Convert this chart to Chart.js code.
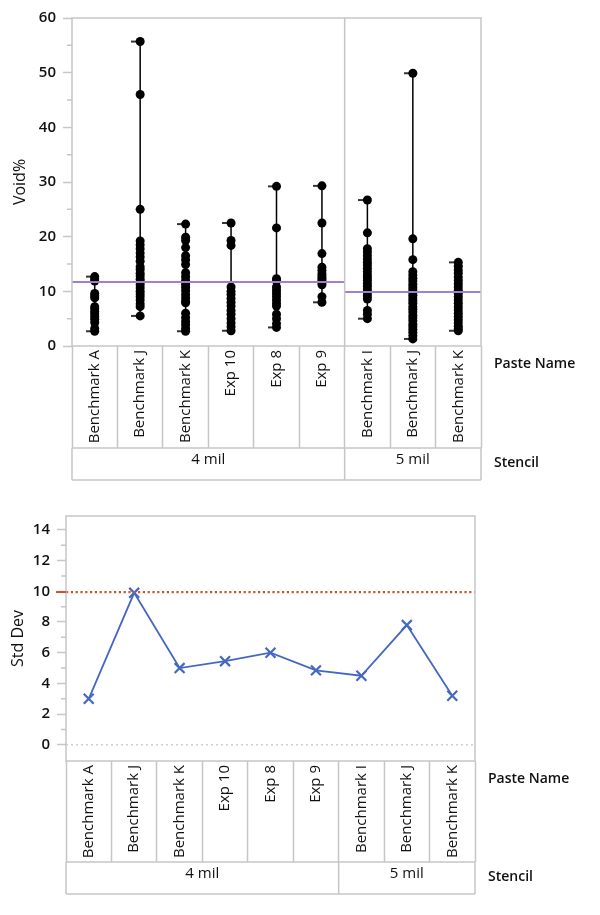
<!DOCTYPE html>
<html>
<head>
<meta charset="utf-8">
<script src="https://cdn.jsdelivr.net/npm/chart.js@4.4.1/dist/chart.umd.min.js"></script>
<style>
  html, body { margin: 0; padding: 0; background: #fff; }
  #page { position: relative; width: 600px; height: 915px; }
  .box { position: absolute; left: 0; width: 600px; }
</style>
</head>
<body>
<div id="page">
  <div class="box" style="top:0;height:500px"><canvas id="voidChart"></canvas></div>
  <div class="box" style="top:500px;height:415px"><canvas id="stdChart"></canvas></div>
</div>
<script>
// categories
const pasteNames = ['Benchmark A', 'Benchmark J', 'Benchmark K', 'Exp 10', 'Exp 8', 'Exp 9', 'Benchmark I', 'Benchmark J', 'Benchmark K'];
const stencils = ['4 mil', '5 mil'];
const stencilSizes = [6, 3];

// Void% readings per paste
const voidBenchA4 = [12.7, 12.3, 11.9, 9.6, 9.2, 8.8, 7.2, 6.8, 6.3, 5.9, 5.4, 4.9, 4.3, 3.2, 2.7];
const voidBenchJ4 = [55.7, 46.0, 25.0, 19.2, 18.5, 17.8, 17.0, 16.3, 15.5, 14.5, 14.0, 13.3, 12.8, 12.2, 11.7, 11.2, 10.6, 10.0, 9.5, 9.0, 8.4, 7.7, 7.2, 5.5];
const voidBenchK4 = [22.3, 19.9, 19.3, 18.0, 16.5, 15.8, 14.9, 13.4, 12.7, 12.0, 11.3, 10.7, 10.1, 9.4, 8.8, 8.2, 7.9, 6.0, 5.2, 4.5, 3.9, 3.2, 2.7];
const voidExp10 = [22.5, 19.3, 18.4, 10.8, 10.0, 9.4, 8.7, 8.0, 7.3, 6.5, 5.8, 5.0, 4.2, 3.5, 2.8];
const voidExp8 = [29.2, 21.6, 12.3, 11.9, 10.8, 10.2, 9.6, 9.0, 8.4, 7.8, 7.3, 5.8, 5.0, 4.1, 3.4];
const voidExp9 = [29.3, 22.5, 16.9, 14.4, 13.8, 13.2, 12.8, 12.4, 12.0, 11.6, 11.2, 9.0, 8.0];
const voidBenchI5 = [26.7, 20.7, 17.8, 17.2, 16.5, 15.9, 15.3, 14.8, 14.2, 13.6, 13.0, 12.5, 12.0, 11.4, 10.9, 10.3, 9.8, 9.2, 8.6, 6.5, 5.8, 5.0];
const voidBenchJ5 = [49.9, 19.6, 15.8, 13.6, 13.0, 12.4, 11.9, 11.3, 10.8, 10.3, 9.8, 9.3, 8.8, 8.3, 7.8, 7.2, 6.7, 6.2, 5.6, 5.1, 4.6, 4.0, 3.5, 3.0, 2.5, 1.9, 1.3];
const voidBenchK5 = [15.3, 14.6, 13.9, 13.3, 12.6, 12.0, 11.4, 10.8, 10.2, 9.6, 9.0, 8.4, 7.8, 7.2, 6.6, 6.0, 5.4, 4.8, 4.2, 3.6, 3.1, 2.8];
const voidValues = [voidBenchA4, voidBenchJ4, voidBenchK4, voidExp10, voidExp8, voidExp9, voidBenchI5, voidBenchJ5, voidBenchK5];
const groupMeans = [11.7, 9.9];

// Std Dev per paste
const stdDev = [3.0, 9.9, 5.0, 5.45, 6.0, 4.85, 4.5, 7.8, 3.2];
const stdLimit = 9.95;

// tick labels
const voidTicks = [0, 10, 20, 30, 40, 50, 60];
const stdTicks = [0, 2, 4, 6, 8, 10, 12, 14];

Chart.defaults.font.family = "'Open Sans', sans-serif";
Chart.defaults.color = '#111';
Chart.defaults.animation = false;

const lineGray = '#c6c6c6';

// frame, label rows, minor ticks
const labelRows = {
  id: 'labelRows',
  afterDraw(chart, args, opts) {
    const { ctx, chartArea: a } = chart;
    const xs = chart.scales.xv;
    const ys = chart.scales.y;
    ctx.save();
    ctx.strokeStyle = lineGray;
    ctx.lineWidth = 1.5;
    ctx.strokeRect(a.left, a.top, a.right - a.left, a.bottom - a.top);
    const row1 = a.bottom + opts.nameRow;
    const row2 = row1 + opts.stencilRow;
    ctx.beginPath();
    ctx.moveTo(a.left, row1); ctx.lineTo(a.right, row1);
    ctx.moveTo(a.left, row2); ctx.lineTo(a.right, row2);
    ctx.font = '15px "Open Sans"';
    ctx.fillStyle = '#111';
    ctx.textAlign = 'center';
    ctx.textBaseline = 'middle';
    let start = 0;
    stencilSizes.forEach((n, g) => {
      const x0 = xs.getPixelForValue(start - 0.5);
      const x1 = xs.getPixelForValue(start + n - 0.5);
      ctx.moveTo(x0, row1); ctx.lineTo(x0, row2);
      ctx.moveTo(x1, row1); ctx.lineTo(x1, row2);
      if (opts.divider && g > 0) {
        ctx.moveTo(x0, a.top); ctx.lineTo(x0, a.bottom);
      }
      ctx.fillText(stencils[g], (x0 + x1) / 2, row1 + 12);
      start += n;
    });
    // minor ticks halfway between the labelled ones
    const t = opts.ticks;
    for (let i = 0; i < t.length - 1; i++) {
      const py = ys.getPixelForValue((t[i] + t[i + 1]) / 2);
      ctx.moveTo(a.left - 5, py); ctx.lineTo(a.left, py);
    }
    ctx.stroke();
    if (opts.limit != null) {
      const py = ys.getPixelForValue(opts.limit);
      ctx.strokeStyle = '#c8552e';
      ctx.lineWidth = 2;
      ctx.beginPath(); ctx.moveTo(a.left - 10, py); ctx.lineTo(a.left, py); ctx.stroke();
    }
    ctx.font = '600 14px "Open Sans"';
    ctx.textAlign = 'left';
    ctx.fillText('Paste Name', a.right + 13, a.bottom + 18);
    ctx.fillText('Stencil', a.right + 13, row1 + 15);
    ctx.restore();
  }
};

function catAxis(height, tickLen) {
  return {
    type: 'category',
    labels: pasteNames,
    offset: true,
    grid: { offset: true, drawOnChartArea: false, tickLength: tickLen, tickColor: lineGray, tickWidth: 1.5 },
    border: { display: false },
    ticks: { minRotation: 90, maxRotation: 90, autoSkip: false, padding: 4 - tickLen, font: { size: 15 } },
    afterFit: s => { s.height = height; }
  };
}

function valueAxis(min, max, ticks, title, width, titlePad) {
  return {
    min: min, max: max,
    afterBuildTicks: s => { s.ticks = ticks.map(v => ({ value: v })); },
    grid: { drawOnChartArea: false, tickLength: 9, tickColor: lineGray, tickWidth: 1.5 },
    border: { display: false },
    ticks: { padding: 7, font: { size: 15, weight: '600' } },
    title: { display: true, text: title, font: { size: 16 }, padding: { top: titlePad, bottom: 0 } },
    afterFit: s => { s.width = width; }
  };
}

function capImage() {
  const c = document.createElement('canvas');
  c.width = 18; c.height = 4;
  const g = c.getContext('2d');
  g.strokeStyle = '#000'; g.lineWidth = 1.6;
  g.beginPath(); g.moveTo(0, 2); g.lineTo(9, 2); g.stroke();
  return c;
}

// top chart data built from the arrays
const dots = [];
const ranges = [];
const caps = [];
voidValues.forEach((vals, i) => {
  vals.forEach(v => dots.push({ x: i, y: v }));
  const lo = Math.min(...vals), hi = Math.max(...vals);
  ranges.push({ x: i, y: lo }, { x: i, y: hi }, { x: i, y: null });
  caps.push({ x: i, y: lo }, { x: i, y: hi });
});
const meanSets = [];
let gStart = 0;
stencilSizes.forEach((n, g) => {
  meanSets.push({
    type: 'line', xAxisID: 'xv',
    data: [{ x: gStart - 0.5, y: groupMeans[g] }, { x: gStart + n - 0.5, y: groupMeans[g] }],
    borderColor: '#a07fd0', borderWidth: 2, pointRadius: 0
  });
  gStart += n;
});

new Chart(document.getElementById('voidChart'), {
  type: 'line',
  data: {
    datasets: [
      ...meanSets,
      { xAxisID: 'xv', data: ranges, borderColor: '#000', borderWidth: 1.5, pointRadius: 0, spanGaps: false },
      { xAxisID: 'xv', data: caps, showLine: false, pointStyle: capImage(), pointRadius: 5 },
      { xAxisID: 'xv', data: dots, showLine: false, pointRadius: 4.5, pointBackgroundColor: '#000', pointBorderWidth: 0 }
    ]
  },
  options: {
    responsive: true, maintainAspectRatio: false, events: [],
    layout: { padding: { left: 0, top: 18, right: 119, bottom: 20 } },
    plugins: { legend: { display: false }, tooltip: { enabled: false },
      labelRows: { nameRow: 102, stencilRow: 32, divider: true, ticks: voidTicks, limit: null } },
    scales: {
      x: catAxis(134, 102),
      xv: { type: 'linear', display: false, min: -0.5, max: 8.5 },
      y: valueAxis(0, 60, voidTicks, 'Void%', 72, 11)
    }
  },
  plugins: [labelRows]
});

new Chart(document.getElementById('stdChart'), {
  type: 'line',
  data: {
    datasets: [
      { xAxisID: 'xv', data: [{ x: -0.5, y: 0 }, { x: 8.5, y: 0 }], borderColor: '#cfcfcf', borderWidth: 1.5, borderDash: [2, 3], pointRadius: 0 },
      { xAxisID: 'xv', data: [{ x: -0.5, y: stdLimit }, { x: 8.5, y: stdLimit }], borderColor: '#c8552e', borderWidth: 2.2, borderDash: [2.2, 2.6], pointRadius: 0 },
      { xAxisID: 'xv', data: stdDev.map((v, i) => ({ x: i, y: v })), borderColor: '#4468c2', borderWidth: 1.8,
        pointStyle: 'crossRot', pointRadius: 7, pointBorderWidth: 2.2, pointBorderColor: '#4468c2' }
    ]
  },
  options: {
    responsive: true, maintainAspectRatio: false, events: [],
    layout: { padding: { left: 0, top: 16, right: 125, bottom: 21 } },
    plugins: { legend: { display: false }, tooltip: { enabled: false },
      labelRows: { nameRow: 101, stencilRow: 32, divider: false, ticks: stdTicks, limit: stdLimit } },
    scales: {
      x: catAxis(133, 101),
      xv: { type: 'linear', display: false, min: -0.5, max: 8.5 },
      y: valueAxis(-1.05, 14.9, stdTicks, 'Std Dev', 66, 9)
    }
  },
  plugins: [labelRows]
});
</script>
</body>
</html>
